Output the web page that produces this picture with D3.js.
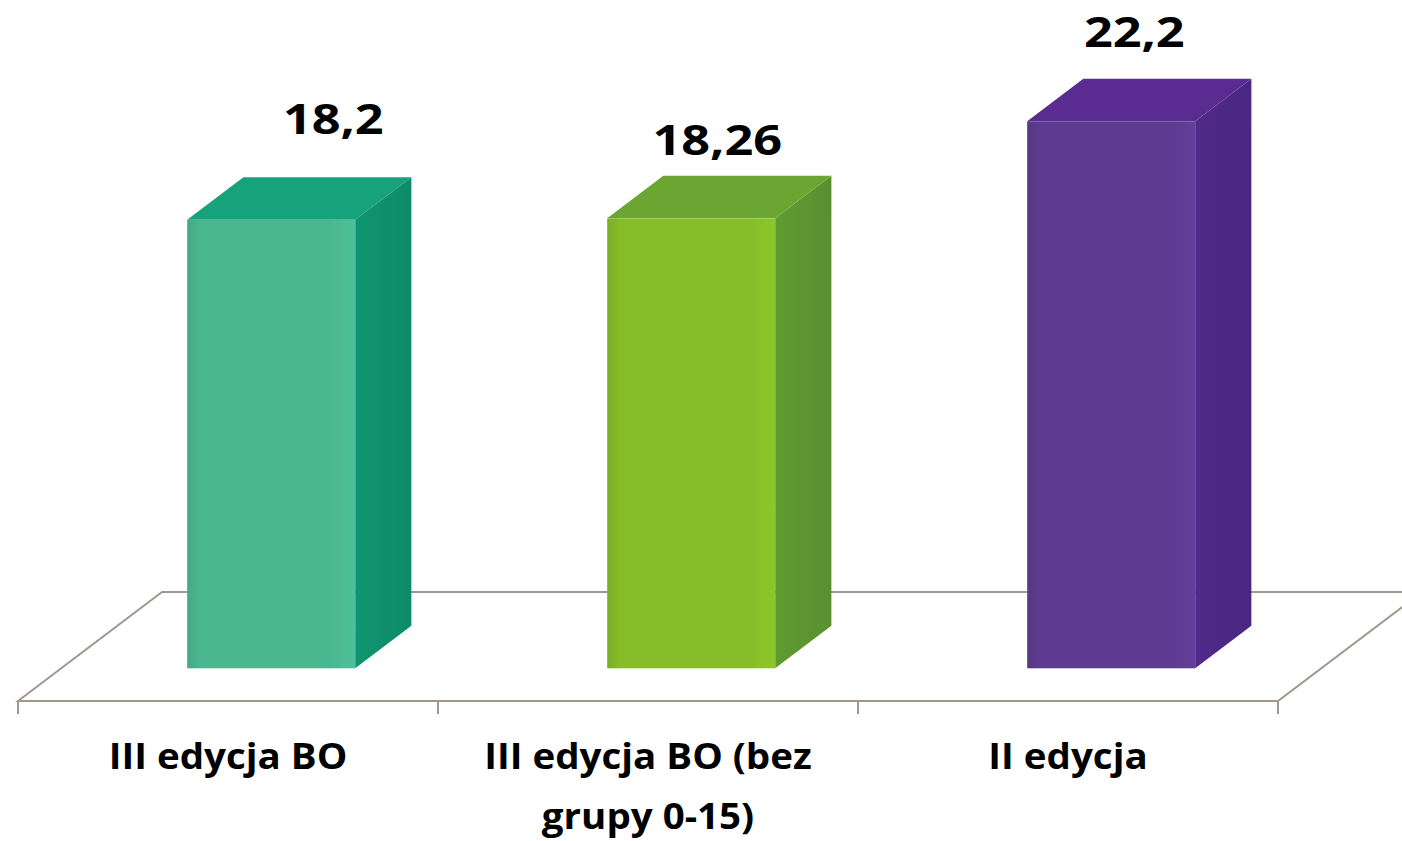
<html>
  <head>
    <meta charset="utf-8">
    <script src="https://d3js.org/d3.v7.min.js"></script>
    <style>
      body { margin: 0; background: #ffffff; }
      text { font-family: "Open Sans", sans-serif; font-weight: bold; fill: #000000; }
    </style>
  </head>
  <body>
    <div id="chart"></div>
    <script>
      // data
      var categories = ["III edycja BO", "III edycja BO (bez grupy 0-15)", "II edycja"];
      var categoryLines = [["III edycja BO"], ["III edycja BO (bez", "grupy 0-15)"], ["II edycja"]];
      var values = [18.2, 18.26, 22.2];
      var valueLabels = ["18,2", "18,26", "22,2"];

      // colours per bar: front, side, top
      var frontColors = ["#4ab791", "#86bd29", "#5f3b91"];
      var sideColors = ["#0e8b67", "#59902f", "#4a2781"];
      var topColors = ["#16a27b", "#6ba633", "#5a2b91"];

      // layout
      var w = 1402, h = 841;
      var depth_dx = 144, depth_dy = 109;   // floor depth in screen px
      var z0 = 0.3, z1 = 0.69;              // bar depth inside the floor
      var bar_frac = 0.4;
      var val_stretch = 1.2;                // text is a bit wide in the picture
      var cat_stretch = 1.07;
      // hand placed data labels (dx, dy from top face centre)
      var labelOffsets = [[34, -65], [-2, -42], [-5, -53]];

      var svg = d3.select("#chart").append("svg")
        .attr("width", w)
        .attr("height", h);

      var x = d3.scaleBand().domain(categories).range([18, 1278]).padding(0);
      var y = d3.scaleLinear().domain([0, 25]).range([701, 85]);

      function px(xv, z) { return xv + z * depth_dx; }
      function py(v, z) { return y(v) - z * depth_dy; }

      var defs = svg.append("defs");
      values.forEach(function(d, i) {
        var g = defs.append("linearGradient").attr("id", "front" + i)
          .attr("x1", 0).attr("x2", 1).attr("y1", 0).attr("y2", 0);
        g.append("stop").attr("offset", "0%").attr("stop-color", d3.color(frontColors[i]).darker(0.25));
        g.append("stop").attr("offset", "8%").attr("stop-color", frontColors[i]);
        g.append("stop").attr("offset", "85%").attr("stop-color", frontColors[i]);
        g.append("stop").attr("offset", "100%").attr("stop-color", d3.color(frontColors[i]).brighter(0.15));
        var s = defs.append("linearGradient").attr("id", "side" + i)
          .attr("x1", 0).attr("x2", 1).attr("y1", 0).attr("y2", 0);
        s.append("stop").attr("offset", "0%").attr("stop-color", d3.color(sideColors[i]).brighter(0.2));
        s.append("stop").attr("offset", "100%").attr("stop-color", sideColors[i]);
      });

      // floor
      var x0 = x.range()[0], x1 = x.range()[1];
      var floorColor = "#a0978f";
      var floor = svg.append("g").attr("stroke", floorColor).attr("stroke-width", 2).attr("fill", "none");
      floor.append("path")
        .attr("d", "M" + px(x0, 0) + "," + py(0, 0) +
                   "L" + px(x0, 1) + "," + py(0, 1) +
                   "L" + px(x1, 1) + "," + py(0, 1) +
                   "L" + px(x1, 0) + "," + py(0, 0) + "Z");
      var ticks = categories.map(function(c) { return x(c); }).concat([x1]);
      floor.selectAll(".tick").data(ticks).enter().append("line")
        .attr("x1", function(d) { return d; })
        .attr("x2", function(d) { return d; })
        .attr("y1", y(0))
        .attr("y2", y(0) + 13);

      // bars
      var bw = x.bandwidth() * bar_frac;
      var bars = svg.selectAll(".bar").data(values).enter().append("g").attr("class", "bar");
      function left(i) { return x(categories[i]) + (x.bandwidth() - bw) / 2; }

      bars.append("path") // side
        .attr("fill", function(d, i) { return "url(#side" + i + ")"; })
        .attr("d", function(d, i) {
          var r = left(i) + bw;
          return "M" + px(r, z0) + "," + py(0, z0) +
                 "L" + px(r, z1) + "," + py(0, z1) +
                 "L" + px(r, z1) + "," + py(d, z1) +
                 "L" + px(r, z0) + "," + py(d, z0) + "Z";
        });
      bars.append("path") // top
        .attr("fill", function(d, i) { return topColors[i]; })
        .attr("d", function(d, i) {
          var l = left(i), r = l + bw;
          return "M" + px(l, z0) + "," + py(d, z0) +
                 "L" + px(l, z1) + "," + py(d, z1) +
                 "L" + px(r, z1) + "," + py(d, z1) +
                 "L" + px(r, z0) + "," + py(d, z0) + "Z";
        });
      bars.append("rect") // front
        .attr("fill", function(d, i) { return "url(#front" + i + ")"; })
        .attr("x", function(d, i) { return px(left(i), z0); })
        .attr("y", function(d) { return py(d, z0); })
        .attr("width", bw)
        .attr("height", function(d) { return py(0, z0) - py(d, z0); });

      // value labels
      svg.selectAll(".val").data(values).enter().append("text")
        .attr("class", "val")
        .attr("text-anchor", "middle")
        .attr("font-size", 42)
        .attr("transform", function(d, i) {
          var cx = px(x(categories[i]) + x.bandwidth() / 2, (z0 + z1) / 2) + labelOffsets[i][0];
          var cy = py(d, (z0 + z1) / 2) + labelOffsets[i][1];
          return "translate(" + cx + "," + cy + ") scale(" + val_stretch + ",1)";
        })
        .text(function(d, i) { return valueLabels[i]; });

      // category labels
      var cat = svg.selectAll(".cat").data(categories).enter().append("text")
        .attr("class", "cat")
        .attr("text-anchor", "middle")
        .attr("font-size", 36)
        .attr("transform", function(d) {
          return "translate(" + (x(d) + x.bandwidth() / 2) + "," + (y(0) + 68) + ") scale(" + cat_stretch + ",1)";
        });
      cat.selectAll("tspan").data(function(d, i) { return categoryLines[i]; }).enter().append("tspan")
        .attr("x", 0)
        .attr("dy", function(d, j) { return j == 0 ? 0 : 60; })
        .text(function(d) { return d; });
    </script>
  </body>
</html>
